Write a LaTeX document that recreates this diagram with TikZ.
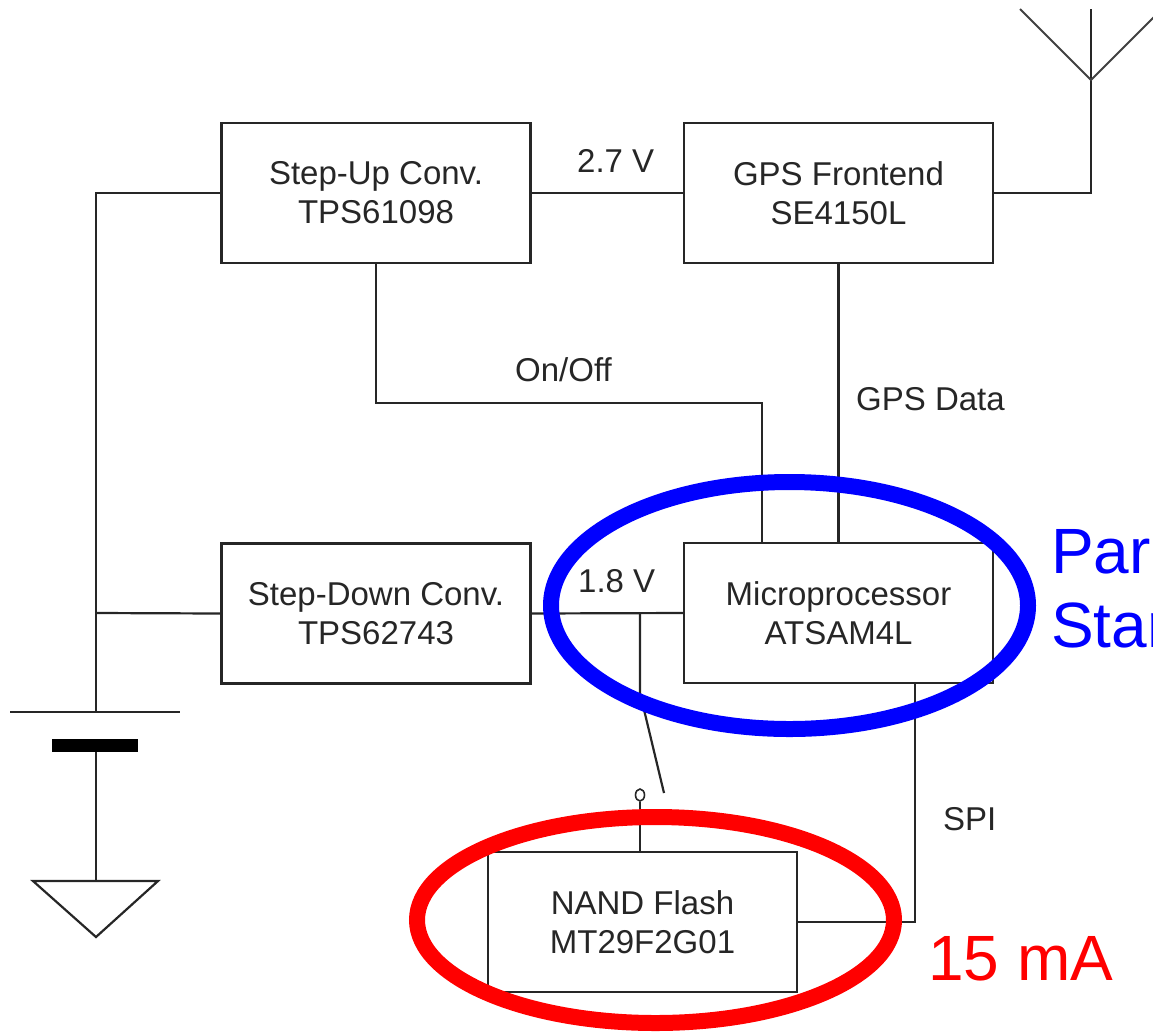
\documentclass[tikz,border=0pt]{standalone}
\usepackage{fontspec}
\setmainfont{Liberation Sans}
\usetikzlibrary{calc,shapes.geometric}
\tikzset{
  blk/.style={draw=black!85, line width=2.2pt, minimum width=309pt, minimum height=140pt, align=center, inner sep=0pt, font=\fontsize{33}{39}\selectfont, text=black!85},
  wire/.style={draw=black!85, line width=2.2pt},
  lbl/.style={anchor=base west, inner sep=0pt, font=\fontsize{33}{39}\selectfont, text=black!85},
  big/.style={anchor=base west, inner sep=0pt, font=\fontsize{64}{70}\selectfont},
  ring/.style={line width=16pt}
}
\begin{document}
\begin{tikzpicture}[x=1pt,y=-1pt]
\useasboundingbox (0,0) rectangle (1153,1031);
\clip (0,0) rectangle (1153,1031);
% blocks
\node[blk] (su) at (376,193) {Step-Up Conv.\\TPS61098};
\node[blk] (gps) at (838.5,193) {GPS Frontend\\SE4150L};
\node[blk] (sd) at (376,613.5) {Step-Down Conv.\\TPS62743};
\node[blk] (mcu) at (838.5,613) {Microprocessor\\ATSAM4L};
\node[blk] (nand) at (642.5,922) {NAND Flash\\MT29F2G01};
% coordinates
\coordinate (busT) at (96,193);
\coordinate (busM) at (96,613);
\coordinate (plateL) at (10,712);
\coordinate (plateR) at (180,712);
\coordinate (batTop) at (96,712);
\coordinate (batBot) at (96,752);
\coordinate (gndTop) at (96,881);
\coordinate (gndL) at (33,881);
\coordinate (gndR) at (158,881);
\coordinate (gndTip) at (96,937);
\coordinate (antJ) at (1091,80);
\coordinate (antTop) at (1091,9);
\coordinate (antL) at (1020,9);
\coordinate (antR) at (1162,9);
\coordinate (onoff) at (762,403);
\coordinate (swTop) at (640,613);
\coordinate (swPiv) at (640,693);
\coordinate (swEnd) at (664,793);
\coordinate (spiX) at (915,683);
% wires
\draw[wire] (su.east) -- (gps.west);
\draw[wire] (gps.east) -| (antJ);
\draw[wire] (antJ) -- (antTop);
\draw[wire, line width=2pt, draw=black!75] (antL) -- (antJ) -- (antR);
\draw[wire] (su.west) -- (busT) -- (batTop);
\draw[wire] (sd.west) -- (busM);
\draw[wire] (plateL) -- (plateR);
\fill[black] (52,739) rectangle (138,752);
\draw[wire] (batBot) -- (gndTop);
\draw[wire] (gndL) -- (gndR) -- (gndTip) -- cycle;
\draw[wire] (su.south) |- (onoff) -- (onoff |- mcu.north);
\draw[wire] (gps.south) -- (mcu.north);
\draw[wire] (sd.east) -- (mcu.west);
\draw[wire] (swTop) -- (swPiv) -- (swEnd);
\node[draw=black!85, line width=1.6pt, ellipse, minimum width=9pt, minimum height=12pt, inner sep=0pt] (swC) at (640,795) {};
\draw[wire] (swC.south) -- (swC.south |- nand.north);
\draw[wire] (spiX) |- (nand.east);
% labels
\node[lbl] (l27) at (577,172) {2.7 V};
\node[lbl] (lonoff) at (515,381) {On/Off};
\node[lbl] (lgps) at (856,410) {GPS Data};
\node[lbl] (l18) at (578,592) {1.8 V};
\node[lbl] (lspi) at (943,830) {SPI};
% highlight rings
\draw[ring, blue] (789.5,605.5) ellipse [x radius=238.5, y radius=123.5];
\draw[ring, red] (655.5,920) ellipse [x radius=238.5, y radius=103];
\node[big, text=blue] (par) at (1051,573) {Par};
\node[big, text=blue] (star) at (1051,647) {Star};
\node[big, text=red] (ma) at (928,980) {15 mA};
\end{tikzpicture}
\end{document}
